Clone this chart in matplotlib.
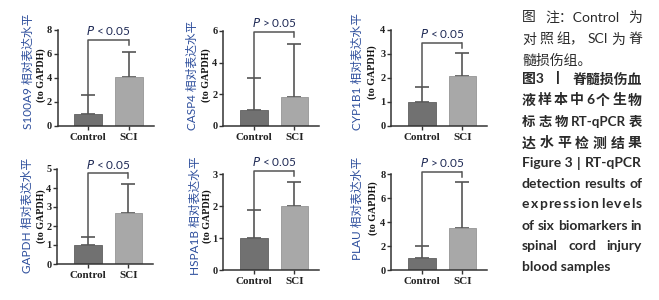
import matplotlib
matplotlib.use("Agg")
import matplotlib.pyplot as plt

# ---------------- data ----------------
genes = ["S100A9", "CASP4", "CYP1B1", "GAPDH", "HSPA1B", "PLAU"]
groups = ["Control", "SCI"]
ctrl_mean = [1.0, 1.0, 1.0, 1.0, 1.0, 1.0]
ctrl_sd = [1.6, 2.0, 0.63, 0.42, 0.86, 1.0]
sci_mean = [4.05, 1.8, 2.08, 2.67, 2.0, 3.5]
sci_sd = [2.15, 3.35, 0.95, 1.53, 0.74, 3.83]
p_text = ["P < 0.05", "P > 0.05", "P < 0.05", "P < 0.05", "P < 0.05", "P > 0.05"]
y_max = [8, 6, 4, 5, 3, 8]
y_step = [2, 2, 1, 1, 1, 2]

# ---------------- layout (pixels) ----------------
W, H = 659, 300
fig = plt.figure(figsize=(W / 100, H / 100), dpi=100)

axes_px = [  # left, top, bottom
    (57.5, 30, 126), (223, 31, 126), (391, 30, 126),
    (57, 169, 264), (223, 174, 270), (391, 174, 270),
]
ax_w = 96
bracket_y = [7.17, 5.92, 3.47, 4.77, 3.1, 8.2]
label_pos = [  # (x line1, y line1, x line2, y line2)
    (28, 71.5, 41.5, 75), (192, 75, 206, 75), (357, 72, 372, 72),
    (27, 215, 41.5, 216), (195, 216, 207.5, 216), (357, 208, 373, 208),
]

serif_b = dict(family="Liberation Serif", weight="bold")
ctrl_color = "#717171"
sci_color = "#a8a8a8"
err_color = "#555555"
spine_color = "#333333"
p_color = "#1f2a55"
label_blue = "#2d4e9c"

for i, g in enumerate(genes):
    left, top, bot = axes_px[i]
    ax = fig.add_axes([left / W, 1 - bot / H, ax_w / W, (bot - top) / H])
    x = [0, 1]
    ax.bar(x, [ctrl_mean[i], sci_mean[i]], width=0.68,
           color=[ctrl_color, sci_color], edgecolor=["#606060", "#959595"],
           linewidth=0.6, zorder=2)
    ax.errorbar(x, [ctrl_mean[i], sci_mean[i]],
                yerr=[[0, 0], [ctrl_sd[i], sci_sd[i]]],
                fmt="none", ecolor=err_color, elinewidth=1.2,
                capsize=5, capthick=1.2, zorder=1)
    ax.set_xlim(-0.75, 1.6)
    ax.set_ylim(0, y_max[i])
    ax.set_yticks(range(0, y_max[i] + 1, y_step[i]))
    ax.set_xticks(x)
    ax.set_xticklabels(groups, fontsize=8, **serif_b)
    for lab in ax.get_yticklabels():
        lab.set_fontsize(7.5)
        lab.set_fontfamily("Liberation Serif")
        lab.set_fontweight("bold")
    ax.tick_params(axis="both", direction="out", length=3, width=1,
                   color=spine_color, labelcolor="#222222")
    ax.tick_params(axis="y", pad=1)
    ax.tick_params(axis="x", pad=2)
    for s in ["top", "right"]:
        ax.spines[s].set_visible(False)
    for s in ["left", "bottom"]:
        ax.spines[s].set_color(spine_color)
        ax.spines[s].set_linewidth(1.1)

    # significance bracket
    by = bracket_y[i]
    ctrl_top = ctrl_mean[i] + ctrl_sd[i]
    ax.plot([0, 0, 1], [ctrl_top, by, by], color=err_color, lw=1.1,
            clip_on=False, zorder=3, solid_capstyle="butt")
    p0 = ax.transData.transform((1, by))
    y_end = ax.transData.inverted().transform((p0[0], p0[1] - 5))[1]
    ax.plot([1, 1], [by, y_end], color=err_color, lw=1.1, clip_on=False)
    ax.annotate("$\\it{P}$" + p_text[i][1:], xy=(0.5, by), xytext=(0, 2),
                textcoords="offset points", ha="center", va="bottom",
                fontsize=8.5, color=p_color, family="Lato",
                annotation_clip=False)

    # y labels
    x1, y1, x2, y2 = label_pos[i]
    fig.text(x1 / W, 1 - y1 / H, g + " 相对表达水平", rotation=90,
             ha="center", va="center", fontsize=8.5, color=label_blue,
             family=["Lato", "Noto Sans CJK SC"])
    fig.text(x2 / W, 1 - y2 / H, "(to GAPDH)", rotation=90, ha="center",
             va="center", fontsize=7.2, color="#111111", **serif_b)

# ---------------- caption ----------------
cap_color = "#2a2a2a"
x0, x1 = 522, 642
renderer = fig.canvas.get_renderer()


def justify(tokens, y, justify_line=True, **kw):
    items = []
    extra = []
    pending = 0
    for t in tokens:
        if t == " ":
            pending += 2
            continue
        items.append(fig.text(0, 0, t, ha="left", va="center", **kw))
        extra.append(pending)
        pending = 0
    widths = [t.get_window_extent(renderer).width for t in items]
    if justify_line and len(items) > 1:
        units = (len(items) - 1) + sum(extra[1:])
        gap = (x1 - x0 - sum(widths)) / units
    else:
        gap = 0
    xx = x0
    for k, (t, w) in enumerate(zip(items, widths)):
        if k > 0:
            xx += gap * (1 + extra[k])
        t.set_position((xx / W, 1 - y / H))
        xx += w


cjk = dict(family=["Lato", "Noto Sans CJK SC"], fontsize=10, color=cap_color)
justify(["图", "注：Control", "为"], 17, **cjk)
justify(["对", "照", "组，", "SCI", "为", "脊"], 39, **cjk)
justify(["髓损伤组。"], 60, justify_line=False, **cjk)
cjkb = dict(cjk, weight="bold")
justify(["图3", "丨", "脊髓损伤血"], 79, **cjkb)
justify(["液", "样", "本", "中", "6", "个", "生", "物"], 100, **cjkb)
justify(["标", "志", "物", "RT-qPCR", "表"], 122, **dict(cjkb, fontsize=9.6))
justify(["达", "水", "平", "检", "测", "结", "果"], 143, **cjkb)

eng = dict(family="Lato", weight="bold", fontsize=10, color=cap_color)
justify(["Figure 3", "|", "RT-qPCR"], 163, **eng)
justify(["detection", "results", "of"], 184, **eng)
justify(list("expression") + [" "] + list("levels"), 204, **eng)
justify(["of", "six", "biomarkers", "in"], 226, **eng)
justify(["spinal", "cord", "injury"], 246, **eng)
justify(["blood samples"], 267, justify_line=False, **eng)

fig.savefig("out.png", dpi=100)
